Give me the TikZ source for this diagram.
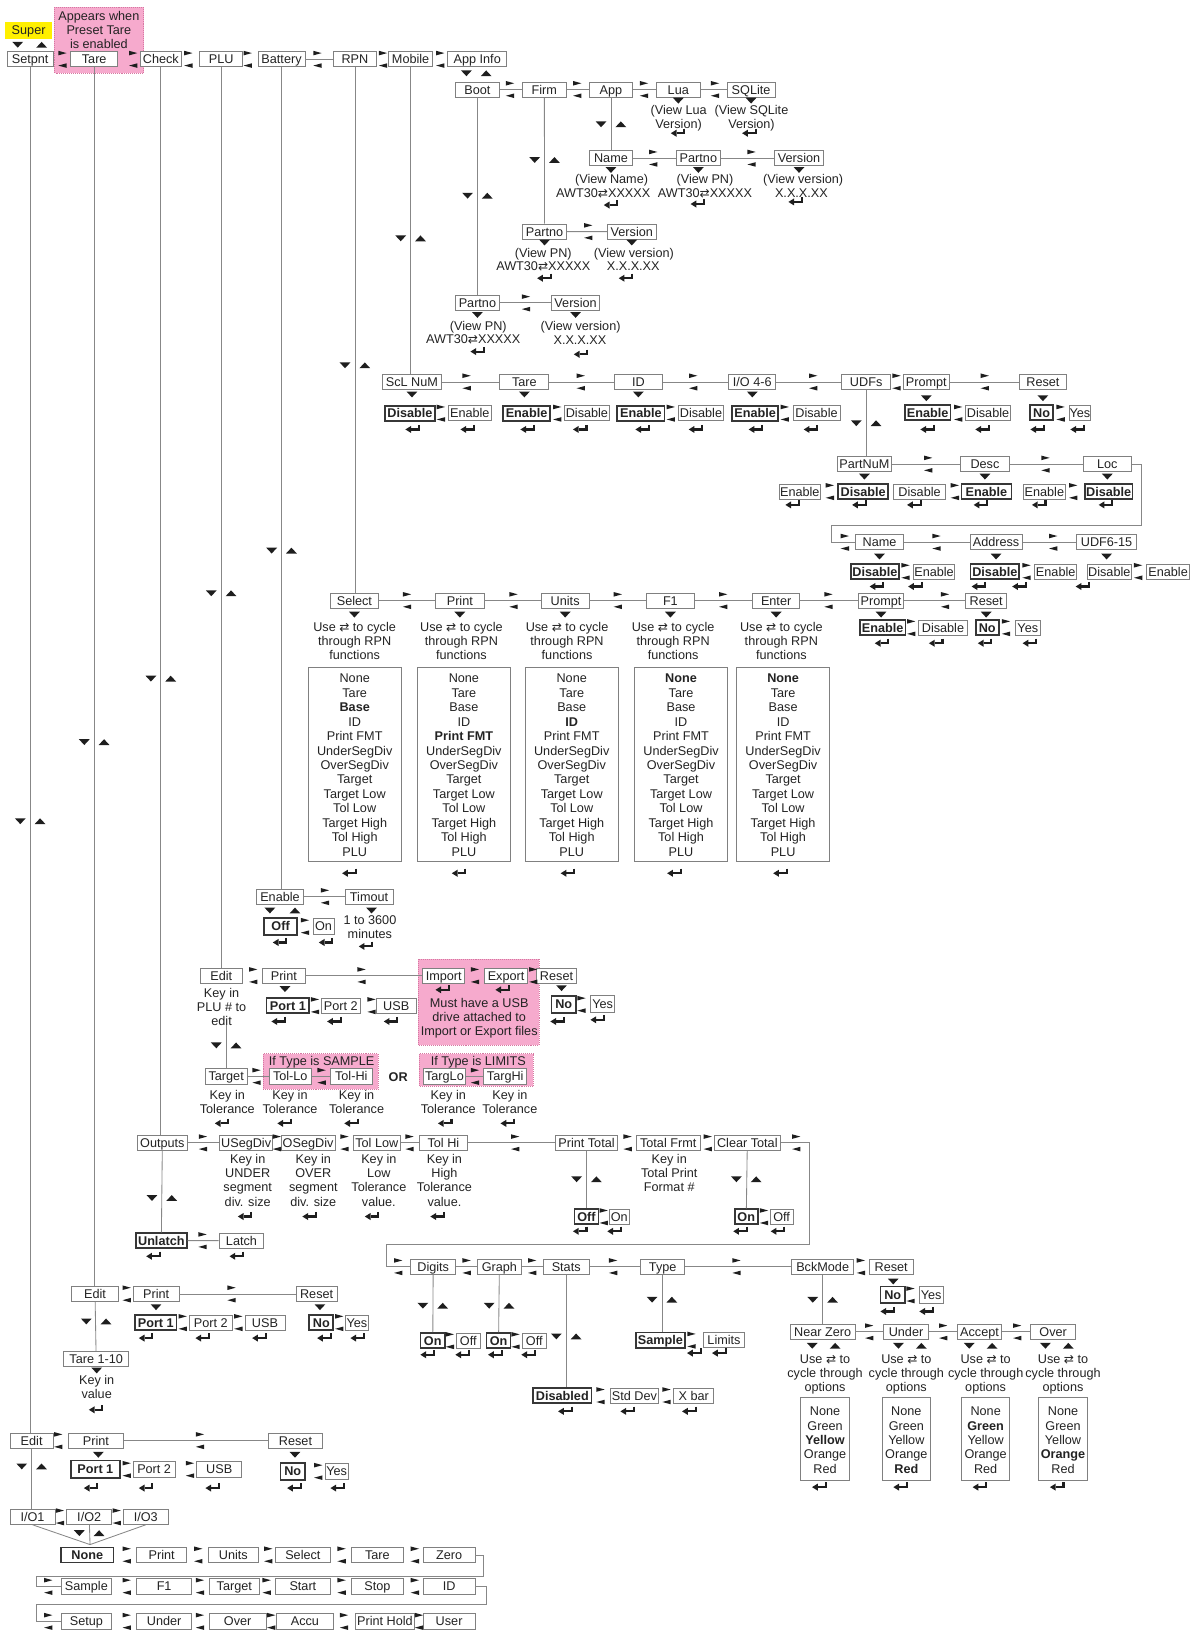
\documentclass[tikz,border=0pt]{standalone}
\usepackage{fontspec}
\setmainfont{Liberation Sans}
\setsansfont{Liberation Sans}
\newfontfamily\symf{DejaVu Sans}[Scale=0.95]
\usepackage{tikz}
\definecolor{boxgray}{RGB}{128,128,128}
\definecolor{linegray}{RGB}{135,135,135}
\definecolor{seldark}{RGB}{55,55,55}
\definecolor{markdark}{RGB}{30,30,30}
\definecolor{txtc}{RGB}{35,35,35}
\definecolor{notepink}{RGB}{246,170,205}
\definecolor{pinkedge}{RGB}{214,120,162}
\definecolor{superyellow}{RGB}{255,240,0}
\newlength\pu
\setlength\pu{0.26mm}
\newcommand\fs{\fontsize{9}{10}\selectfont}
\newcommand\swapsym{{\symf ⇄}}
\tikzset{
  box/.style={draw=boxgray, fill=white, line width=0.6pt, inner sep=0pt,
              minimum height=14.5*\pu, text height=6.45pt, text depth=0pt,
              font=\fs, text=txtc},
  sel/.style={box, draw=seldark, line width=1.2pt, font=\fs\bfseries},
  wd/.style={minimum width=#1*\pu},
  lbl/.style={font=\fs, align=center, inner sep=0pt, text=txtc},
  ln/.style={lbl, text height=6.45pt, text depth=0pt},
  link/.style={draw=linegray, line width=0.6pt},
  notebg/.style={fill=notepink, draw=pinkedge, line width=0.4pt, densely dotted},
  listbox/.style={draw=boxgray, line width=0.6pt},
}
% small marks used all over the chart
\newcommand\swaparr[2]{%
  \fill[markdark] ({#1-4},{#2-8.2}) -- ({#1+4},{#2-6}) -- ({#1-4},{#2-3.8}) -- cycle;
  \fill[markdark] ({#1+4},{#2+3.8}) -- ({#1-4},{#2+6}) -- ({#1+4},{#2+8.2}) -- cycle;}
\newcommand\tridown[2]{\fill[markdark] ({#1-5.2},{#2-2.8}) -- ({#1+5.2},{#2-2.8}) -- ({#1},{#2+2.8}) -- cycle;}
\newcommand\triup[2]{\fill[markdark] ({#1-5.2},{#2+2.8}) -- ({#1+5.2},{#2+2.8}) -- ({#1},{#2-2.8}) -- cycle;}
\newcommand\tripair[2]{\tridown{#1-9.5}{#2}\triup{#1+9.5}{#2}}
\newcommand\enterkey[2]{%
  \draw[markdark, line width=1.5pt] ({#1+5.5},{#2-4.5}) -- ({#1+5.5},{#2}) -- ({#1-2},{#2});
  \fill[markdark] ({#1-7.5},{#2}) -- ({#1-2},{#2-3.4}) -- ({#1-2},{#2+3.4}) -- cycle;}

\begin{document}
\begin{tikzpicture}[x=0.26mm, y=-0.26mm, font=\fs]
  \useasboundingbox (0,0) rectangle (1145,1568);

  % pink notes
  \path[notebg] (52,7) rectangle (138,70);
  \path[notebg] (401.8,921.5) rectangle (518.1,1003.8);
  \path[notebg] (252.9,1012.4) rectangle (363.4,1046.4);
  \path[notebg] (402.8,1012.4) rectangle (512.3,1043.8);
  \node[lbl, anchor=north] at (95,10.4) {Appears when\\Preset Tare\\is enabled};

  % main menu
  \node[box, fill=superyellow, draw=none, wd=45, minimum height=16*\pu] (super) at (27.5,29) {Super};
  \tridown{17}{43} \triup{40}{43}
  \node[box, wd=44] (setpnt) at (29,57) {Setpnt};
  \node[box, wd=45] (tarem) at (90.5,57) {Tare};
  \node[box, wd=39] (check) at (154.5,57) {Check};
  \node[box, wd=41] (plu) at (212.5,57) {PLU};
  \node[box, wd=45] (battery) at (270.5,57) {Battery};
  \node[box, wd=42] (rpn) at (341,57) {RPN};
  \node[box, wd=42] (mobile) at (394.5,57) {Mobile};
  \node[box, wd=57] (appinfo) at (458.5,57) {App Info};
  \draw[link] (battery) -- (rpn);
  \foreach \x in {60,128,181,238,305,368,423} {\swaparr{\x}{57}}
  \tripair{457.6}{70.4}

  % App Info
  \node[box, wd=42] (boot) at (458.7,86) {Boot};
  \node[box, wd=42] (firm) at (523,86) {Firm};
  \node[box, wd=42] (app) at (587,86) {App};
  \node[box, wd=42] (lua) at (651.7,86) {Lua};
  \node[box, wd=46] (sqlite) at (721.6,86) {SQLite};
  \draw[link] (boot) -- (firm) (firm) -- (app) (app) -- (lua) (lua) -- (sqlite);
  \foreach \x in {490,554.6,618.7,686.9} {\swaparr{\x}{86}}
  \tridown{651.7}{96.7} \tridown{721.6}{96.7}
  \node[lbl, anchor=north] at (652,101) {(View Lua\\Version)};
  \node[lbl, anchor=north] at (722,101) {(View SQLite\\Version)};
  \enterkey{652}{128} \enterkey{720.5}{128}

  \node[box, wd=42] (name) at (587,152) {Name};
  \node[box, wd=42] (partnoa) at (671,152) {Partno};
  \node[box, wd=46.5] (versiona) at (767.7,152) {Version};
  \draw[link] (app) -- (name) (name) -- (partnoa) (partnoa) -- (versiona);
  \swaparr{627.6}{152} \swaparr{722.1}{152}
  \tripair{587}{119.4}
  \foreach \x in {587,671,767.7} {\tridown{\x}{163.3}}
  \node[ln] at (587.6,172) {(View Name)};
  \node[ln] at (579.6,185) {AWT30\swapsym{}XXXXX};
  \enterkey{587.6}{197}
  \node[ln] at (677.3,172) {(View PN)};
  \node[ln] at (677.3,185) {AWT30\swapsym{}XXXXX};
  \enterkey{671}{196}
  \node[ln] at (771.7,172) {(View version)};
  \node[ln] at (770,185) {X.X.X.XX};
  \enterkey{765}{194}

  \node[box, wd=42] (partnob) at (523.2,222.5) {Partno};
  \node[box, wd=46.5] (versionb) at (607,222.5) {Version};
  \draw[link] (firm) -- (partnob) (partnob) -- (versionb);
  \swaparr{565.2}{222.5}
  \tripair{523.2}{153.7}
  \tridown{523.2}{233} \tridown{607}{233}
  \node[ln] at (522,242.7) {(View PN)};
  \node[ln] at (522,256) {AWT30\swapsym{}XXXXX};
  \enterkey{523.6}{267.3}
  \node[ln] at (609,242.7) {(View version)};
  \node[ln] at (608.4,256) {X.X.X.XX};
  \enterkey{602}{267.3}

  \node[box, wd=42] (partnoc) at (458.7,291) {Partno};
  \node[box, wd=46] (versionc) at (553,291) {Version};
  \draw[link] (boot) -- (partnoc) (partnoc) -- (versionc);
  \swaparr{505.3}{291}
  \tripair{458.7}{188}
  \tridown{458.7}{302.6} \tridown{553}{302.6}
  \node[ln] at (459.5,312.8) {(View PN)};
  \node[ln] at (454.7,326) {AWT30\swapsym{}XXXXX};
  \enterkey{459.5}{337.8}
  \node[ln] at (557.8,312.8) {(View version)};
  \node[ln] at (557.2,326.6) {X.X.X.XX};
  \enterkey{558.8}{340.4}

  % Mobile
  \node[box, wd=57] (sclnum) at (395.8,367) {ScL NuM};
  \node[box, wd=47] (taremob) at (503.8,367) {Tare};
  \node[box, wd=46] (idmob) at (613.3,367) {ID};
  \node[box, wd=45] (iomob) at (722.8,367) {I/O 4-6};
  \node[box, wd=47] (udfs) at (832.2,367) {UDFs};
  \node[box, wd=44] (promptmob) at (890,367) {Prompt};
  \node[box, wd=45.5] (resetmob) at (1002,367) {Reset};
  \draw[link] (sclnum) -- (taremob) (taremob) -- (idmob) (idmob) -- (iomob)
    (iomob) -- (udfs) (promptmob) -- (resetmob);
  \foreach \x in {448.3,558,666,781.3,861.4,946.2} {\swaparr{\x}{367}}
  \foreach \x in {395.8,503.8,613.3,722.8} {\tridown{\x}{379}}
  \tridown{890}{382.6} \tridown{1002}{382.6}
  \node[sel, wd=48] (sclD) at (393.9,397) {Disable};
  \node[box, wd=42] (sclE) at (451.4,397) {Enable};
  \node[sel, wd=45] (tareE) at (505.9,397) {Enable};
  \node[box, wd=44] (tareD) at (563.9,397) {Disable};
  \node[sel, wd=45.5] (idE) at (615.8,397) {Enable};
  \node[box, wd=44] (idD) at (673.5,397) {Disable};
  \node[sel, wd=44] (ioE) at (725.6,397) {Enable};
  \node[box, wd=45] (ioD) at (784.5,397) {Disable};
  \node[sel, wd=44] (prE) at (891.3,396.4) {Enable};
  \node[box, wd=43] (prD) at (949.3,396.4) {Disable};
  \node[sel, wd=22.5] (rsN) at (1000.7,396.4) {No};
  \node[box, wd=21] (rsY) at (1037.6,396.4) {Yes};
  \foreach \x in {423.6,535.4,644.5,754,920.6,1019} {\swaparr{\x}{397}}
  \foreach \x in {397,449.9,507.5,558,618,669.2,726.8,779.7,891.8,944.6,997.5,1035.9} {\enterkey{\x}{412.6}}

  \node[box, wd=52] (partnum) at (830.5,445.9) {PartNuM};
  \node[box, wd=47] (desc) at (946.3,445.9) {Desc};
  \node[box, wd=46.5] (loc) at (1063.9,445.9) {Loc};
  \draw[link] (udfs) -- (udfs |- partnum.north) (partnum) -- (desc) (desc) -- (loc);
  \swaparr{891.8}{445.9} \swaparr{1004.5}{445.9}
  \tripair{832.2}{406.6}
  \foreach \x in {830.5,946.3,1063.9} {\tridown{\x}{457.9}}
  \node[box, wd=40] (pnE) at (768.4,472.3) {Enable};
  \node[sel, wd=48] (pnD) at (829.3,472.3) {Disable};
  \node[box, wd=50.5] (dsD) at (883.5,472.3) {Disable};
  \node[sel, wd=48] (dsE) at (947.8,472.3) {Enable};
  \node[box, wd=40.5] (lcE) at (1003.4,472.3) {Enable};
  \node[sel, wd=46] (lcD) at (1065.2,472.3) {Disable};
  \foreach \x in {797.3,917.4,1031.1} {\swaparr{\x}{472.3}}
  \foreach \x in {762.1,826.2,879,943,999,1063.1} {\enterkey{\x}{485.1}}

  \node[box, wd=45.5] (nameu) at (845,521) {Name};
  \node[box, wd=50] (address) at (957,521) {Address};
  \node[box, wd=57.7] (udf) at (1063.2,521) {UDF6-15};
  \draw[link] (loc.east) -- (1096.7,445.9) -- (1096.7,505) -- (799,505) -- (799,521) -- (nameu.west);
  \draw[link] (nameu) -- (address) (address) -- (udf);
  \foreach \x in {811.7,899.8,1011.9} {\swaparr{\x}{521}}
  \foreach \x in {845,957,1063.2} {\tridown{\x}{534.7}}
  \node[sel, wd=46] (nmD) at (840.6,549.1) {Disable};
  \node[box, wd=40] (nmE) at (897.4,549.1) {Enable};
  \node[sel, wd=46.7] (adD) at (955.8,549.1) {Disable};
  \node[box, wd=40] (adE) at (1014.3,549.1) {Enable};
  \node[box, wd=42.6] (udD) at (1065.8,549.1) {Disable};
  \node[box, wd=41.7] (udE) at (1122.3,549.1) {Enable};
  \foreach \x in {870,986.3,1093.5} {\swaparr{\x}{549.1}}
  \foreach \x in {843,880,941,980,1041} {\enterkey{\x}{563.5}}

  % RPN
  \node[box, wd=46.3] (select) at (340.5,577) {Select};
  \node[box, wd=46.3] (printrpn) at (441.8,577) {Print};
  \node[box, wd=46.3] (units) at (543,577) {Units};
  \node[box, wd=46.3] (fone) at (644.1,577) {F1};
  \node[box, wd=45.6] (enter) at (745.7,577) {Enter};
  \node[box, wd=43] (promptrpn) at (846.5,577) {Prompt};
  \node[box, wd=39] (resetrpn) at (947.5,577) {Reset};
  \draw[link] (select) -- (printrpn) (printrpn) -- (units) (units) -- (fone)
    (fone) -- (enter) (enter) -- (promptrpn) (promptrpn) -- (resetrpn);
  \foreach \x in {391.1,493.4,593.6,694.8,796,908} {\swaparr{\x}{577}}
  \foreach \x in {340.5,441.8,543,644.1,745.7,846.5,947.5} {\tridown{\x}{590.5}}
  \foreach \x in {340.7,443.3,544.8,646.7,750.7}
    {\node[lbl, anchor=north] at (\x,597.5) {Use \swapsym{} to cycle\\through RPN\\functions};}
  \foreach \cx/\bi in {340.8/3,445.7/5,549.3/4,654.3/1,752.4/1} {
    \draw[listbox] (\cx-44.5,641) rectangle (\cx+44.5,828);
    \foreach \nm [count=\k] in {None,Tare,Base,ID,Print FMT,UnderSegDiv,OverSegDiv,Target,Target Low,Tol Low,Target High,Tol High,PLU} {
      \ifnum\k=\bi
        \node[ln, font=\fs\bfseries] at (\cx,637.8+13.875*\k) {\nm};
      \else
        \node[ln] at (\cx,637.8+13.875*\k) {\nm};
      \fi
    }
  }
  \foreach \x in {336.2,441.6,546.2,648.5,750.4} {\enterkey{\x}{839}}
  \node[sel, wd=44] (prEr) at (848,603) {Enable};
  \node[box, wd=47] (prDr) at (906,603) {Disable};
  \node[sel, wd=22] (rsNr) at (948.5,603) {No};
  \node[box, wd=24] (rsYr) at (987.5,603) {Yes};
  \swaparr{875.5}{603} \swaparr{966.5}{603}
  \foreach \x in {848,900,947,990} {\enterkey{\x}{618}}

  % Battery
  \node[box, wd=45] (enablebat) at (269,861.4) {Enable};
  \node[box, wd=46.4] (timout) at (354.6,861.4) {Timout};
  \draw[link] (enablebat) -- (timout);
  \swaparr{312.2}{861.4}
  \tridown{259.3}{874.8} \triup{283.4}{874.8} \tridown{357}{874.8}
  \node[sel, wd=32, minimum height=16*\pu] (offbat) at (269.6,890.1) {Off};
  \node[box, wd=20] (onbat) at (310.9,890.1) {On};
  \swaparr{293}{890.1}
  \node[lbl, anchor=north] at (355.4,879.8) {1 to 3600\\minutes};
  \enterkey{269.6}{905.5} \enterkey{313.8}{905.5} \enterkey{352.2}{909.3}

  % PLU
  \node[box, wd=41] (editplu) at (212.6,937.4) {Edit};
  \node[box, wd=40.7] (printplu) at (272.7,937.4) {Print};
  \node[box, wd=40.7] (import) at (426.3,937.4) {Import};
  \node[box, wd=40.6] (export) at (486.2,937.4) {Export};
  \node[box, wd=38.5] (resetplu) at (534.7,937.4) {Reset};
  \draw[link] (printplu) -- (import);
  \foreach \x in {243.3,347.4,456.3,512.3} {\swaparr{\x}{937.4}}
  \enterkey{425.9}{951} \enterkey{483.5}{951}
  \node[lbl, anchor=north] at (460.4,959.2) {Must have a USB\\drive attached to\\Import or Export files};
  \tridown{539.5}{949.4}
  \node[sel, wd=23.4, minimum height=16.5*\pu] (noplu) at (541.6,965) {No};
  \node[box, wd=23.4, minimum height=16*\pu] (yesplu) at (579.1,964.8) {Yes};
  \swaparr{558.7}{965}
  \enterkey{536.3}{981.4} \enterkey{574.8}{979.8}
  \node[lbl, anchor=north] at (212.9,949.6) {Key in\\PLU \# to\\edit};
  \tridown{273.8}{950.3}
  \node[sel, wd=41] (port1plu) at (276.6,966.2) {Port 1};
  \node[box, wd=38] (port2plu) at (327.4,966.2) {Port 2};
  \node[box, wd=39] (usbplu) at (380.7,966.2) {USB};
  \swaparr{302.6}{966.2} \swaparr{357}{966.2}
  \foreach \x in {268.3,321.8,376.2} {\enterkey{\x}{981.4}}

  \coordinate (plukey) at (217.3,985);
  \node[box, wd=40.7] (target) at (217.3,1034.2) {Target};
  \draw[link] (plukey) -- (target);
  \tripair{217.3}{1004.4}
  \node[ln] at (309,1019.2) {If Type is SAMPLE};
  \node[box, wd=41] (tollo) at (278.9,1034.2) {Tol-Lo};
  \node[box, wd=41] (tolhi) at (337.5,1034.2) {Tol-Hi};
  \draw[link] (target) -- (tollo) (tollo) -- (tolhi);
  \swaparr{246.5}{1034.2} \swaparr{309}{1034.2}
  \node[ln, font=\fs\bfseries] at (382.6,1034.9) {OR};
  \node[ln] at (459.5,1019.2) {If Type is LIMITS};
  \node[box, wd=40.7] (targlo) at (427,1034.2) {TargLo};
  \node[box, wd=41] (targhi) at (485.4,1034.2) {TargHi};
  \draw[link] (targlo) -- (targhi);
  \swaparr{456.3}{1034.2}
  \foreach \x in {218.4,278.6,342.6,430.7,489.9}
    {\node[lbl, anchor=north] at (\x,1047.2) {Key in\\Tolerance};}
  \foreach \x in {213.9,274,338.3,428.3,488.4} {\enterkey{\x}{1079.3}}

  % Check
  \node[box, wd=48] (outputs) at (156,1098) {Outputs};
  \node[box, wd=51] (usegdiv) at (236.5,1098) {USegDiv};
  \node[box, wd=52] (osegdiv) at (296,1098) {OSegDiv};
  \node[box, wd=45] (tollow) at (362,1098) {Tol Low};
  \node[box, wd=46] (tolhigh) at (426,1098) {Tol Hi};
  \node[box, wd=60] (printtotal) at (563.5,1098) {Print Total};
  \node[box, wd=61] (totalfrmt) at (642,1098) {Total Frmt};
  \node[box, wd=63] (cleartotal) at (718,1098) {Clear Total};
  \draw[link] (outputs) -- (usegdiv) (tollow) -- (tolhigh) (tolhigh) -- (printtotal);
  \foreach \x in {195,266,331,393.5,495,603,680,765} {\swaparr{\x}{1098}}
  \node[lbl, anchor=north] at (238,1109.1) {Key in\\UNDER\\segment\\div. size};
  \node[lbl, anchor=north] at (301,1109.1) {Key in\\OVER\\segment\\div. size};
  \node[lbl, anchor=north] at (364,1109.1) {Key in\\Low\\Tolerance\\value.};
  \node[lbl, anchor=north] at (427,1109.1) {Key in\\High\\Tolerance\\value.};
  \node[lbl, anchor=north] at (643,1109.1) {Key in\\Total Print\\Format \#};
  \foreach \x in {236,298,358,421} {\enterkey{\x}{1168.8}}
  \node[sel, wd=23] (offpt) at (563.5,1169) {Off};
  \node[box, wd=19] (onpt) at (595,1169) {On};
  \draw[link] (printtotal) -- (offpt);
  \tripair{563.5}{1133}
  \swaparr{580}{1169}
  \enterkey{558}{1183} \enterkey{591}{1183}
  \node[sel, wd=22] (onct) at (717,1169) {On};
  \node[box, wd=22] (offct) at (751,1169) {Off};
  \draw[link] (cleartotal) -- (onct);
  \tripair{717}{1133}
  \swaparr{734}{1169}
  \enterkey{712}{1183} \enterkey{748}{1183}
  \node[sel, wd=49] (unlatch) at (155,1192) {Unlatch};
  \node[box, wd=43] (latch) at (232,1192) {Latch};
  \draw[link] (outputs) -- (unlatch) (unlatch) -- (latch);
  \tripair{155.5}{1151}
  \swaparr{194.6}{1192}
  \enterkey{148}{1207} \enterkey{228}{1207}

  \node[box, wd=43.5] (digits) at (416.2,1217) {Digits};
  \node[box, wd=42.6] (graph) at (479.8,1217) {Graph};
  \node[box, wd=44.2] (stats) at (544,1217) {Stats};
  \node[box, wd=42.6] (type) at (636.7,1217) {Type};
  \node[box, wd=60] (bckmode) at (790.4,1217) {BckMode};
  \node[box, wd=42.3] (resetbck) at (856.2,1217) {Reset};
  \draw[link] (digits) -- (graph) (graph) -- (stats) (stats) -- (type) (type) -- (bckmode);
  \draw[link] (cleartotal.east) -- (778,1098) -- (778,1196) -- (371.4,1196) -- (371.4,1217) -- (digits.west);
  \foreach \x in {382.6,448.3,511.3,589.1,707.6,827.1} {\swaparr{\x}{1217}}

  \node[sel, wd=23.3] (ondg) at (415.8,1288) {On};
  \node[box, wd=22.4] (offdg) at (449.9,1288) {Off};
  \draw[link] (digits) -- (ondg);
  \tripair{415.8}{1254.5}
  \swaparr{432.2}{1288}
  \enterkey{411.4}{1301.6} \enterkey{445}{1301.6}
  \node[sel, wd=23] (ongr) at (479,1288) {On};
  \node[box, wd=22.5] (offgr) at (513.3,1288) {Off};
  \draw[link] (graph) -- (ongr);
  \tripair{479.5}{1254.5}
  \swaparr{495.3}{1288}
  \enterkey{476.4}{1301.6} \enterkey{508.4}{1301.6}
  \node[sel, wd=56] (disabled) at (540.3,1341) {Disabled};
  \node[box, wd=45.8] (stddev) at (609.5,1341) {Std Dev};
  \node[box, wd=38.5] (xbar) at (666.6,1341) {X bar};
  \draw[link] (stats) -- (stats |- disabled.north);
  \tripair{544}{1284}
  \swaparr{577}{1341} \swaparr{640.4}{1341}
  \enterkey{543.7}{1356} \enterkey{603.6}{1356} \enterkey{662.8}{1356}
  \node[sel, wd=47] (sample) at (634.5,1287.6) {Sample};
  \node[box, wd=40] (limits) at (695.6,1287.6) {Limits};
  \draw[link] (type) -- (type |- sample.north);
  \tripair{636}{1248.7}
  \swaparr{664.4}{1287.6}
  \enterkey{667.6}{1300} \enterkey{691.6}{1300}

  \tridown{858.2}{1231.2}
  \node[sel, wd=23.4, minimum height=16*\pu] (nobck) at (857.7,1244) {No};
  \node[box, wd=23, minimum height=16*\pu] (yesbck) at (894.6,1244) {Yes};
  \swaparr{874.8}{1244}
  \enterkey{853.4}{1260} \enterkey{890.8}{1260}
  \node[box, wd=62] (nearzero) at (790.4,1279.6) {Near Zero};
  \node[box, wd=42.6] (under) at (870.5,1279.6) {Under};
  \node[box, wd=42.2] (accept) at (941.1,1279.6) {Accept};
  \node[box, wd=43.5] (over) at (1011.9,1279.6) {Over};
  \draw[link] (bckmode) -- (nearzero) (nearzero) -- (under) (under) -- (accept) (accept) -- (over);
  \tripair{790.4}{1248.8}
  \foreach \x in {835.1,906.2,977.3} {\swaparr{\x}{1279.6}}
  \foreach \tx/\lx/\bi in {791.4/792.7/3,874.2/870.8/5,942.2/947/2,1015.4/1021.3/4} {
    \tridown{\tx-11}{1293} \triup{\tx+11}{1293}
    \node[lbl, anchor=north] at (\lx,1301) {Use \swapsym{} to\\cycle through\\options};
    \draw[listbox] (\lx-23.2,1343) rectangle (\lx+23.2,1422.4);
    \foreach \nm [count=\k] in {None,Green,Yellow,Orange,Red} {
      \ifnum\k=\bi
        \node[ln, font=\fs\bfseries] at (\lx,1342.3+13.77*\k) {\nm};
      \else
        \node[ln] at (\lx,1342.3+13.77*\k) {\nm};
      \fi
    }
    \enterkey{\lx-5}{1428.8}
  }

  % Tare
  \node[box, wd=45] (edittare) at (91.3,1243.2) {Edit};
  \node[box, wd=44] (printtare) at (150,1243.2) {Print};
  \node[box, wd=39.7] (resettare) at (304.2,1243.2) {Reset};
  \draw[link] (printtare) -- (resettare);
  \swaparr{121.7}{1243.2} \swaparr{222.5}{1243.2}
  \tridown{149.9}{1255.9}
  \node[sel, wd=40] (port1tare) at (149.7,1270.7) {Port 1};
  \node[box, wd=41.3] (port2tare) at (202.5,1270.7) {Port 2};
  \node[box, wd=38.5] (usbtare) at (254.6,1270.7) {USB};
  \swaparr{175.5}{1270.7} \swaparr{229}{1270.7}
  \foreach \x in {140.9,195.3,249.8} {\enterkey{\x}{1285.6}}
  \tridown{307.4}{1255.9}
  \node[sel, wd=23] (notare) at (308.7,1270.7) {No};
  \node[box, wd=22] (yestare) at (342.9,1270.7) {Yes};
  \swaparr{326}{1270.7}
  \enterkey{312.2}{1285.6} \enterkey{344.2}{1285.6}
  \node[box, wd=62] (tare110) at (92.4,1306) {Tare 1-10};
  \draw[link] (edittare) -- (tare110);
  \tripair{92.4}{1269.6}
  \tridown{92.9}{1316.7}
  \node[lbl, anchor=north] at (92.9,1321.1) {Key in\\value};
  \enterkey{92.9}{1354.5}

  % Setpnt
  \node[box, wd=41.6] (editset) at (30.4,1384.1) {Edit};
  \node[box, wd=53] (printset) at (92.1,1384.1) {Print};
  \node[box, wd=52] (resetset) at (283.9,1384.1) {Reset};
  \draw[link] (printset) -- (resetset);
  \swaparr{56}{1384.1} \swaparr{192.1}{1384.1}
  \tridown{94.5}{1397.7}
  \node[sel, wd=47.4, minimum height=17*\pu] (port1set) at (91.6,1411.8) {Port 1};
  \node[box, wd=40, minimum height=15*\pu] (port2set) at (148.1,1411.8) {Port 2};
  \node[box, wd=43.3, minimum height=15*\pu] (usbset) at (210.6,1411.8) {USB};
  \swaparr{121.7}{1411.8} \swaparr{182.5}{1411.8}
  \foreach \x in {88.1,140.9,204.9} {\enterkey{\x}{1429.7}}
  \tridown{283.4}{1397.7}
  \node[sel, wd=23.4, minimum height=16*\pu] (noset) at (281.3,1413.7) {No};
  \node[box, wd=22.4] (yesset) at (323.4,1413.7) {Yes};
  \swaparr{305.8}{1413.7}
  \enterkey{283.4}{1429.7} \enterkey{325}{1429.7}

  \node[box, wd=43.2] (ioone) at (31.2,1457.3) {I/O1};
  \node[box, wd=43.3] (iotwo) at (85.7,1457.3) {I/O2};
  \node[box, wd=43.2] (iothree) at (140.1,1457.3) {I/O3};
  \draw[link] (editset) -- (editset |- ioone.north);
  \tripair{30.4}{1408.9}
  \swaparr{57.6}{1457.3} \swaparr{112.1}{1457.3}
  \coordinate (iojoin) at (86.5,1484);
  \draw[link] (ioone.south) -- (iojoin) -- (iothree.south) (iotwo) -- (iojoin);
  \tripair{85.7}{1473}

  \node[sel, wd=50.3] (none) at (83.8,1494) {None};
  \node[box, wd=48] (fprint) at (155.3,1494) {Print};
  \node[box, wd=48] (funits) at (224.2,1494) {Units};
  \node[box, wd=52] (fselect) at (291,1494) {Select};
  \node[box, wd=49.6] (ftare) at (362.6,1494) {Tare};
  \node[box, wd=49.6] (fzero) at (431.5,1494) {Zero};
  \foreach \x in {121.7,190.5,257.8,328.2,398.6} {\swaparr{\x}{1494}}
  \node[box, wd=48.7] (fsample) at (83,1524.2) {Sample};
  \node[box, wd=52.8] (fone2) at (157.7,1524.2) {F1};
  \node[box, wd=48] (ftarget) at (225.1,1524.2) {Target};
  \node[box, wd=52] (fstart) at (291,1524.2) {Start};
  \node[box, wd=49.6] (fstop) at (362.6,1524.2) {Stop};
  \node[box, wd=49.6] (fid) at (431.5,1524.2) {ID};
  \foreach \x in {46.4,121.7,192.1,256.2,328.2,398.6} {\swaparr{\x}{1524.2}}
  \node[box, wd=48.7] (fsetup) at (83,1557.8) {Setup};
  \node[box, wd=52.8] (funder) at (157.7,1557.8) {Under};
  \node[box, wd=54.4] (fover) at (228.3,1557.8) {Over};
  \node[box, wd=54.4] (faccu) at (293,1557.8) {Accu};
  \node[box, wd=57.6] (fprinthold) at (369.8,1557.8) {Print Hold};
  \node[box, wd=49.6] (fuser) at (431.5,1557.8) {User};
  \foreach \x in {46.4,121.7,192.1,260.6,330.5,402.6} {\swaparr{\x}{1557.8}}
  \draw[link] (fzero.east) -- (464.3,1494) -- (464.3,1514.6) -- (34.6,1514.6) -- (34.6,1524.2) -- (fsample.west);
  \draw[link] (fid.east) -- (466.9,1524.2) -- (466.9,1541.8) -- (34.6,1541.8) -- (34.6,1557.8) -- (fsetup.west);

  % drops from the main menu
  \draw[link] (setpnt) -- (setpnt |- editset.north);
  \draw[link] (tarem) -- (tarem |- edittare.north);
  \draw[link] (check) -- (check |- outputs.north);
  \draw[link] (plu) -- (plu |- editplu.north);
  \draw[link] (battery) -- (battery |- enablebat.north);
  \draw[link] (rpn) -- (rpn |- select.north);
  \draw[link] (mobile) -- (mobile |- sclnum.north);
  \tripair{29}{789} \tripair{90.5}{713} \tripair{154.5}{652} \tripair{212.5}{570}
  \tripair{270.5}{529} \tripair{341}{351} \tripair{394.5}{229}
\end{tikzpicture}
\end{document}
